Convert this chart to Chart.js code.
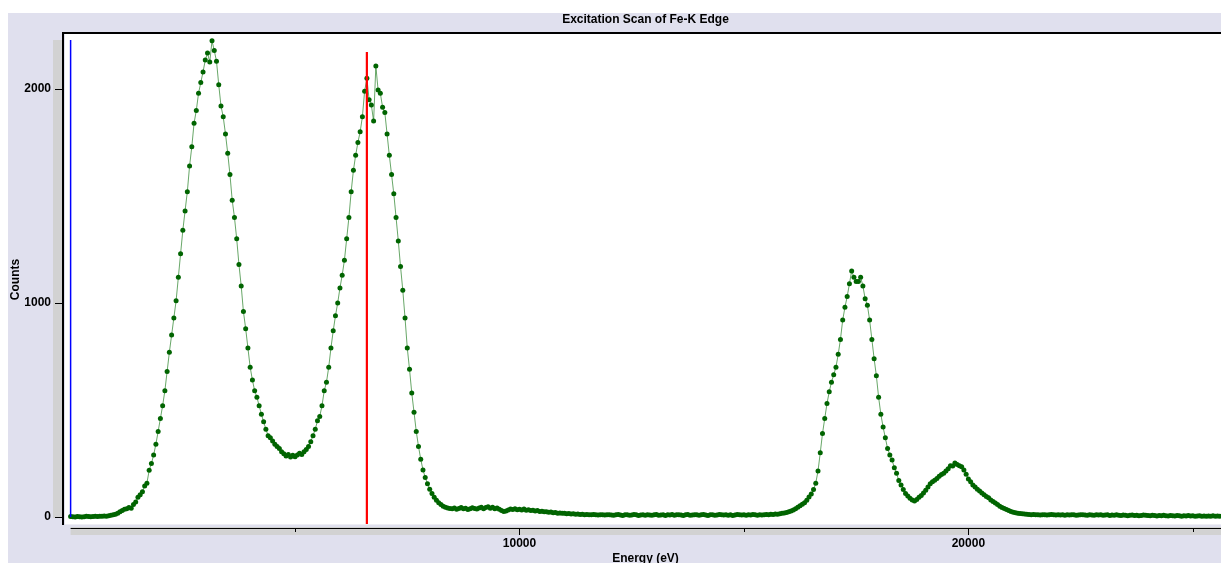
<!DOCTYPE html>
<html>
<head>
<meta charset="utf-8">
<script src="https://cdn.jsdelivr.net/npm/chart.js@4/dist/chart.umd.min.js"></script>
<style>
  html, body { margin: 0; padding: 0; background: #ffffff; overflow: hidden; }
  #wrap { width: 1221px; height: 563px; overflow: hidden; }
  canvas { display: block; }
</style>
</head>
<body>
<div id="wrap"><canvas id="chart" width="1240" height="580"></canvas></div>
<script>
// ---- Data ----
const chartTitle = 'Excitation Scan of Fe-K Edge';
const xAxisTitle = 'Energy (eV)';
const yAxisTitle = 'Counts';

const energyEv = [
  0,50,100,150,200,250,300,350,400,450,500,550,600,650,700,750,800,850,900,950,
  1000,1050,1100,1150,1200,1250,1300,1350,1400,1450,1500,1550,1600,1650,1700,1750,1800,1850,1900,1950,
  2000,2050,2100,2150,2200,2250,2300,2350,2400,2450,2500,2550,2600,2650,2700,2750,2800,2850,2900,2950,
  3000,3050,3100,3150,3200,3250,3300,3350,3400,3450,3500,3550,3600,3650,3700,3750,3800,3850,3900,3950,
  4000,4050,4100,4150,4200,4250,4300,4350,4400,4450,4500,4550,4600,4650,4700,4750,4800,4850,4900,4950,
  5000,5050,5100,5150,5200,5250,5300,5350,5400,5450,5500,5550,5600,5650,5700,5750,5800,5850,5900,5950,
  6000,6050,6100,6150,6200,6250,6300,6350,6400,6450,6500,6550,6600,6650,6700,6750,6800,6850,6900,6950,
  7000,7050,7100,7150,7200,7250,7300,7350,7400,7450,7500,7550,7600,7650,7700,7750,7800,7850,7900,7950,
  8000,8050,8100,8150,8200,8250,8300,8350,8400,8450,8500,8550,8600,8650,8700,8750,8800,8850,8900,8950,
  9000,9050,9100,9150,9200,9250,9300,9350,9400,9450,9500,9550,9600,9650,9700,9750,9800,9850,9900,9950,
  10000,10050,10100,10150,10200,10250,10300,10350,10400,10450,10500,10550,10600,10650,10700,10750,10800,10850,10900,10950,
  11000,11050,11100,11150,11200,11250,11300,11350,11400,11450,11500,11550,11600,11650,11700,11750,11800,11850,11900,11950,
  12000,12050,12100,12150,12200,12250,12300,12350,12400,12450,12500,12550,12600,12650,12700,12750,12800,12850,12900,12950,
  13000,13050,13100,13150,13200,13250,13300,13350,13400,13450,13500,13550,13600,13650,13700,13750,13800,13850,13900,13950,
  14000,14050,14100,14150,14200,14250,14300,14350,14400,14450,14500,14550,14600,14650,14700,14750,14800,14850,14900,14950,
  15000,15050,15100,15150,15200,15250,15300,15350,15400,15450,15500,15550,15600,15650,15700,15750,15800,15850,15900,15950,
  16000,16050,16100,16150,16200,16250,16300,16350,16400,16450,16500,16550,16600,16650,16700,16750,16800,16850,16900,16950,
  17000,17050,17100,17150,17200,17250,17300,17350,17400,17450,17500,17550,17600,17650,17700,17750,17800,17850,17900,17950,
  18000,18050,18100,18150,18200,18250,18300,18350,18400,18450,18500,18550,18600,18650,18700,18750,18800,18850,18900,18950,
  19000,19050,19100,19150,19200,19250,19300,19350,19400,19450,19500,19550,19600,19650,19700,19750,19800,19850,19900,19950,
  20000,20050,20100,20150,20200,20250,20300,20350,20400,20450,20500,20550,20600,20650,20700,20750,20800,20850,20900,20950,
  21000,21050,21100,21150,21200,21250,21300,21350,21400,21450,21500,21550,21600,21650,21700,21750,21800,21850,21900,21950,
  22000,22050,22100,22150,22200,22250,22300,22350,22400,22450,22500,22550,22600,22650,22700,22750,22800,22850,22900,22950,
  23000,23050,23100,23150,23200,23250,23300,23350,23400,23450,23500,23550,23600,23650,23700,23750,23800,23850,23900,23950,
  24000,24050,24100,24150,24200,24250,24300,24350,24400,24450,24500,24550,24600,24650,24700,24750,24800,24850,24900,24950,
  25000,25050,25100,25150,25200,25250,25300,25350,25400,25450,25500,25550,25600
];

const counts = [
  2,1,0,2,1,0,1,3,2,1,2,3,2,4,3,5,4,6,8,10,
  13,17,24,30,36,38,44,41,58,70,92,104,118,145,158,218,250,290,340,400,
  460,520,590,680,770,850,930,1010,1120,1230,1340,1430,1520,1640,1730,1840,1900,1980,2030,2080,
  2135,2168,2126,2225,2180,2130,2020,1920,1870,1790,1700,1600,1480,1400,1300,1180,1080,960,880,790,
  700,640,590,560,520,480,445,410,380,370,355,340,330,320,305,295,285,292,280,288,
  282,290,298,292,305,315,330,352,380,410,450,470,520,590,630,700,790,870,940,1000,
  1070,1130,1200,1300,1400,1520,1620,1690,1750,1800,1870,1990,2050,1950,1925,1850,2107,1995,1980,1915,
  1890,1790,1690,1600,1510,1400,1290,1170,1060,930,790,690,580,490,400,330,270,220,185,155,
  130,110,92,78,66,58,50,46,42,40,38,42,36,40,44,38,41,35,39,43,
  40,37,42,45,39,44,48,41,46,38,42,36,30,26,28,33,37,35,39,34,
  36,33,37,32,34,30,31,28,30,26,27,24,25,22,23,20,21,18,19,17,
  17,15,16,14,15,13,14,12,13,11,12,10,11,12,10,9,11,10,9,10,
  11,9,8,10,12,9,7,10,11,8,9,12,10,7,9,11,8,10,9,8,
  10,12,8,9,11,7,10,9,12,8,10,11,9,7,10,12,8,9,11,10,
  8,10,12,9,7,11,10,8,9,12,10,9,11,8,10,7,9,12,10,9,
  11,8,10,9,12,10,8,11,9,10,12,11,13,12,14,13,15,17,19,21,
  24,28,33,38,45,52,60,66,78,94,108,128,158,215,300,390,460,530,585,630,
  665,700,760,830,920,980,1030,1090,1150,1120,1100,1100,1120,1080,1020,990,920,830,740,660,
  560,480,420,370,320,290,266,230,205,170,150,128,110,98,88,80,75,82,92,100,
  112,125,140,155,165,172,180,190,198,205,215,225,240,238,252,245,240,235,220,200,
  178,165,150,140,130,122,112,104,96,90,80,72,65,58,50,44,40,35,30,26,
  22,20,18,16,15,14,13,12,11,12,10,11,9,10,11,9,10,12,10,9,
  10,9,11,8,10,9,11,10,8,9,10,11,9,8,10,9,8,10,9,11,
  8,9,10,7,9,8,10,8,7,9,8,6,8,9,7,8,6,7,9,8,
  7,6,8,7,5,7,6,8,6,5,7,6,5,7,6,4,6,5,7,5,
  6,4,5,6,4,5,3,5,4,6,4,5,4
];

// marker lines (energy, bottom and top in counts)
const blueMarkerEv = 0;
const blueMarkerCounts = [0, 2229];
const redMarkerEv = 6600;
const redMarkerCounts = [-40, 2173];

// axis ranges & ticks
const xRange = [-125, 25739];
const yRange = [-37.4, 2257];
const xTickValues = [5000, 10000, 15000, 20000, 25000];
const xLabeledTicks = [10000, 20000];
const yTickValues = [0, 1000, 2000];

// ---- Chart ----
const FONT = { family: "'Liberation Sans', Arial, sans-serif", size: 12, weight: 'bold' };
const LAVENDER = '#e0e0ee';
const STRIP = '#d2d2d2';

const decor = {
  id: 'decor',
  beforeDraw(chart) {
    const c = chart.ctx, a = chart.chartArea, W = chart.width, H = chart.height;
    c.save();
    c.fillStyle = '#ffffff'; c.fillRect(0, 0, W, H);
    c.fillStyle = LAVENDER; c.fillRect(8, 13, W - 8, H - 13);
    c.fillStyle = '#ffffff'; c.fillRect(a.left, a.top, a.right - a.left, a.bottom - a.top);
    c.restore();
  },
  afterDraw(chart) {
    const c = chart.ctx, a = chart.chartArea;
    const xs = chart.scales.x, ys = chart.scales.y;
    c.save();
    // data-range strips
    c.fillStyle = STRIP;
    const yTop = ys.getPixelForValue(blueMarkerCounts[1]);
    const yBot = ys.getPixelForValue(0);
    c.fillRect(a.left - 12, yTop, 9, yBot - yTop + 1);
    const x0 = xs.getPixelForValue(0);
    c.fillRect(x0, a.bottom + 2, chart.width - x0, 8);
    // borders
    c.fillStyle = '#000000';
    c.fillRect(a.left - 2, a.top - 2, chart.width, 2);           // top border
    c.fillRect(a.left - 3, a.top - 2, 2, a.bottom - a.top + 2);  // left axis
    c.fillStyle = '#eeeef4';
    c.fillRect(a.left, a.bottom - 1, chart.width, 1);
    c.fillStyle = '#000000';
    c.fillRect(x0, a.bottom + 3, chart.width - x0, 1);           // x axis line
    // tick marks
    yTickValues.forEach(v => {
      const y = Math.round(ys.getPixelForValue(v));
      c.fillRect(a.left - 10, y, 7, 1);
    });
    xTickValues.forEach(v => {
      const x = Math.round(xs.getPixelForValue(v));
      c.fillRect(x, a.bottom + 3, 1, xLabeledTicks.includes(v) ? 7 : 4);
    });
    c.restore();
  }
};

const points = energyEv.map((e, i) => ({ x: e, y: counts[i] }));

new Chart(document.getElementById('chart'), {
  type: 'scatter',
  data: {
    datasets: [
      {
        label: 'Counts',
        data: points,
        showLine: true,
        borderColor: 'rgba(40,130,40,0.7)',
        borderWidth: 1,
        pointRadius: 2.5,
        pointBackgroundColor: '#006400',
        pointBorderWidth: 0,
        order: 3
      },
      {
        label: 'Blue marker',
        data: blueMarkerCounts.map(v => ({ x: blueMarkerEv, y: v })),
        showLine: true,
        borderColor: '#0000ff',
        borderWidth: 1.5,
        pointRadius: 0,
        order: 2
      },
      {
        label: 'Red marker',
        data: redMarkerCounts.map(v => ({ x: redMarkerEv, y: v })),
        showLine: true,
        borderColor: '#ff0000',
        borderWidth: 2.2,
        pointRadius: 0,
        order: 1
      }
    ]
  },
  options: {
    responsive: false,
    animation: false,
    devicePixelRatio: 1,
    layout: { padding: { left: 8, top: 12, right: 14, bottom: 0 } },
    plugins: {
      legend: { display: false },
      tooltip: { enabled: false },
      title: {
        display: true,
        text: chartTitle,
        fullSize: false,
        color: '#000000',
        font: FONT,
        padding: { top: 0, bottom: 7.6 }
      }
    },
    scales: {
      x: {
        type: 'linear',
        min: xRange[0],
        max: xRange[1],
        afterFit(s) { s.height = 55; },
        afterBuildTicks(s) { s.ticks = xTickValues.map(v => ({ value: v })); },
        grid: { display: false, drawTicks: false },
        border: { display: false },
        ticks: {
          autoSkip: false,
          maxRotation: 0,
          color: '#000000',
          font: FONT,
          padding: 11,
          callback: v => (xLabeledTicks.indexOf(Math.round(v)) >= 0 ? String(Math.round(v)) : '')
        },
        title: { display: true, text: xAxisTitle, color: '#000000', font: FONT, padding: { top: 4, bottom: 14 } }
      },
      y: {
        type: 'linear',
        min: yRange[0],
        max: yRange[1],
        afterFit(s) { s.width = 57; },
        afterBuildTicks(s) { s.ticks = yTickValues.map(v => ({ value: v })); },
        grid: { display: false, drawTicks: false },
        border: { display: false },
        ticks: {
          autoSkip: false,
          color: '#000000',
          font: FONT,
          padding: 14,
          callback: v => String(Math.round(v))
        },
        title: { display: true, text: yAxisTitle, color: '#000000', font: FONT, padding: 0 }
      }
    }
  },
  plugins: [decor]
});
</script>
</body>
</html>
